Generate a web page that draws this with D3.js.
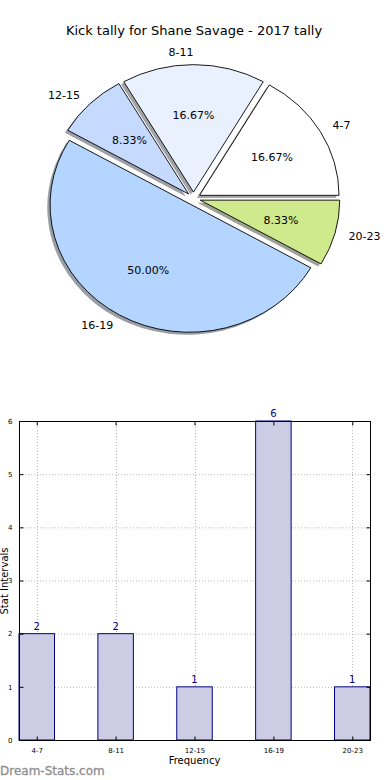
<!DOCTYPE html>
<html>
<head>
<meta charset="utf-8">
<script src="https://cdn.jsdelivr.net/npm/d3@7"></script>
<style>
  body { margin: 0; background: #fff; }
  text { font-family: "DejaVu Sans", sans-serif; }
</style>
</head>
<body>
<div id="chart"></div>
<script>
const width = 390, height = 780;

// data
const title = "Kick tally for Shane Savage - 2017 tally";
const categories = ["4-7", "8-11", "12-15", "16-19", "20-23"];
const counts = [2, 2, 1, 6, 1];
const sliceColors = ["#ffffff", "#e9f1ff", "#c6d9ff", "#b4d5ff", "#cfea8c"];
const yTicks = [0, 1, 2, 3, 4, 5, 6];

const svg = d3.select("#chart")
    .append("svg")
    .attr("width", width)
    .attr("height", height);

svg.append("text")
    .attr("x", 194).attr("y", 35)
    .attr("text-anchor", "middle")
    .attr("font-size", 13)
    .text(title);

// ---- pie (matplotlib style: ccw from 3 o'clock, exploded, shadowed, elliptical)
const cx = 193.5, cy = 198.5, rx = 139.5, ry = 127.5, explode = 0.05;
const total = d3.sum(counts);

const pie = d3.pie().sort(null)
    .startAngle(Math.PI / 2)
    .endAngle(Math.PI / 2 - 2 * Math.PI);
const arcs = pie(counts);
const unitArc = d3.arc().innerRadius(0).outerRadius(1);

arcs.forEach(a => {
    a.mid = (a.startAngle + a.endAngle) / 2;
    a.vx = cx + explode * rx * Math.sin(a.mid);
    a.vy = cy - explode * ry * Math.cos(a.mid);
});

// shadows first, all behind the wedges
svg.append("g").selectAll("path")
    .data(arcs).enter()
    .append("path")
    .attr("transform", d => `translate(${d.vx - 2.8},${d.vy + 2.6}) scale(${rx},${ry})`)
    .attr("d", unitArc)
    .attr("fill", (d, i) => {
        const c = d3.rgb(sliceColors[i]);
        return d3.rgb(c.r * 0.3, c.g * 0.3, c.b * 0.3);
    })
    .attr("fill-opacity", 0.5);

svg.append("g").selectAll("path")
    .data(arcs).enter()
    .append("path")
    .attr("transform", d => `translate(${d.vx},${d.vy}) scale(${rx},${ry})`)
    .attr("d", unitArc)
    .attr("fill", (d, i) => sliceColors[i])
    .attr("stroke", "#000")
    .attr("stroke-width", 0.9)
    .attr("vector-effect", "non-scaling-stroke");

// category labels
svg.append("g").selectAll("text")
    .data(arcs).enter()
    .append("text")
    .attr("x", d => d.vx + 1.1 * rx * Math.sin(d.mid))
    .attr("y", d => d.vy - 1.1 * ry * Math.cos(d.mid))
    .attr("dy", "0.35em")
    .attr("text-anchor", d => Math.sin(d.mid) > 1e-9 ? "start" : "end")
    .attr("font-size", 11)
    .text((d, i) => categories[i]);

// percentage labels
svg.append("g").selectAll("text")
    .data(arcs).enter()
    .append("text")
    .attr("x", d => d.vx + 0.6 * rx * Math.sin(d.mid))
    .attr("y", d => d.vy - 0.6 * ry * Math.cos(d.mid))
    .attr("dy", "0.35em")
    .attr("text-anchor", "middle")
    .attr("font-size", 11)
    .text(d => (100 * d.data / total).toFixed(2) + "%");

// ---- bar chart
const plotL = 19, plotR = 370, plotT = 421, plotB = 740;
const barW = 0.45;
const x = d3.scaleLinear()
    .domain([-barW / 2, categories.length - 1 + barW / 2])
    .range([plotL, plotR]);
const y = d3.scaleLinear().domain([0, 6]).range([plotB, plotT]);

const g = svg.append("g");

// grid
g.selectAll(".hgrid")
    .data(yTicks.slice(1, -1)).enter()
    .append("line")
    .attr("x1", plotL).attr("x2", plotR)
    .attr("y1", d => y(d) + 0.5).attr("y2", d => y(d) + 0.5)
    .attr("stroke", "#b8b8b8")
    .attr("stroke-dasharray", "1,2");
g.selectAll(".vgrid")
    .data(categories).enter()
    .append("line")
    .attr("x1", (d, i) => Math.round(x(i)) + 0.5)
    .attr("x2", (d, i) => Math.round(x(i)) + 0.5)
    .attr("y1", plotT).attr("y2", plotB)
    .attr("stroke", "#b8b8b8")
    .attr("stroke-dasharray", "1,2");

// bars
g.selectAll("rect.bar")
    .data(counts).enter()
    .append("rect")
    .attr("class", "bar")
    .attr("x", (d, i) => x(i - barW / 2))
    .attr("y", d => y(d))
    .attr("width", x(barW) - x(0))
    .attr("height", d => plotB - y(d))
    .attr("fill", "#ccccE5")
    .attr("stroke", "#000080")
    .attr("stroke-width", 1);

// value labels
g.selectAll(".val")
    .data(counts).enter()
    .append("text")
    .attr("x", (d, i) => x(i))
    .attr("y", d => y(d) - 4)
    .attr("text-anchor", "middle")
    .attr("font-size", 10)
    .attr("fill", "#000080")
    .text(d => d);

// frame
g.append("rect")
    .attr("x", plotL + 0.5).attr("y", plotT + 0.5)
    .attr("width", plotR - plotL).attr("height", plotB - plotT)
    .attr("fill", "none")
    .attr("stroke", "#000")
    .attr("stroke-width", 1);

// ticks
const yAxis = d3.axisLeft(y).tickValues(yTicks).tickFormat(d3.format("d"))
    .tickSize(-4).tickPadding(7);
g.append("g").attr("transform", `translate(${plotL + 0.5},0)`).call(yAxis)
    .call(s => s.select(".domain").remove())
    .call(s => s.selectAll("text").attr("font-size", 7).attr("font-family", "DejaVu Sans"));
const yAxisR = d3.axisRight(y).tickValues(yTicks).tickSize(-4).tickFormat("");
g.append("g").attr("transform", `translate(${plotR + 0.5},0)`).call(yAxisR)
    .call(s => s.select(".domain").remove());

const xAxis = d3.axisBottom(x).tickValues(d3.range(categories.length))
    .tickFormat(i => categories[i]).tickSize(-4).tickPadding(8);
g.append("g").attr("transform", `translate(0,${plotB + 0.5})`).call(xAxis)
    .call(s => s.select(".domain").remove())
    .call(s => s.selectAll("text").attr("font-size", 7).attr("font-family", "DejaVu Sans"));
const xAxisT = d3.axisTop(x).tickValues(d3.range(categories.length)).tickSize(-4).tickFormat("");
g.append("g").attr("transform", `translate(0,${plotT + 0.5})`).call(xAxisT)
    .call(s => s.select(".domain").remove());

// axis titles
svg.append("text")
    .attr("x", (plotL + plotR) / 2).attr("y", 764)
    .attr("text-anchor", "middle")
    .attr("font-size", 10)
    .text("Frequency");
svg.append("text")
    .attr("transform", "translate(8,581) rotate(-90)")
    .attr("text-anchor", "middle")
    .attr("font-size", 10)
    .text("Stat Intervals");

// watermark
svg.append("text")
    .attr("x", 0).attr("y", 775)
    .attr("font-family", "Open Sans, sans-serif")
    .attr("font-size", 12)
    .attr("fill", "#8e8e8e")
    .attr("stroke", "#8e8e8e")
    .attr("stroke-width", 0.3)
    .text("Dream-Stats.com");
</script>
</body>
</html>
